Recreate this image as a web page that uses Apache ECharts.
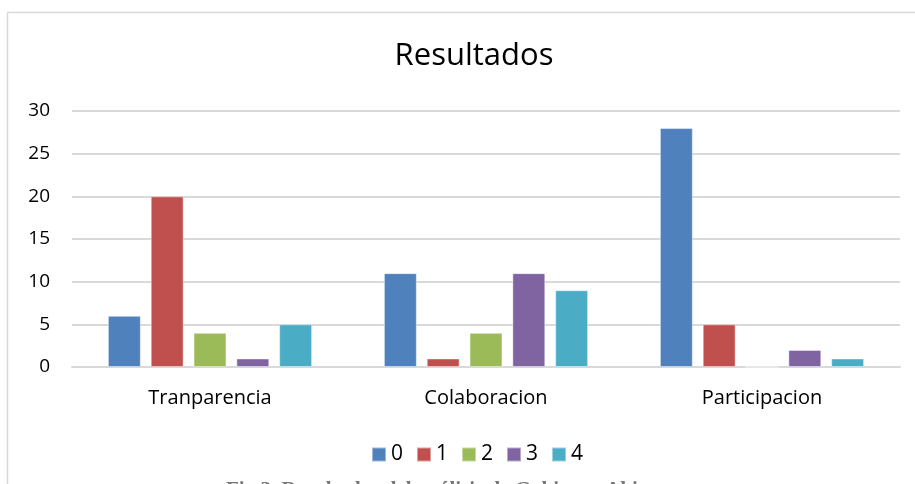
<!DOCTYPE html>
<html>
<head>
<meta charset="utf-8">
<script src="https://cdn.jsdelivr.net/npm/echarts@6/dist/echarts.min.js"></script>
<style>
  html, body { margin: 0; padding: 0; background: #fff; }
  #main { width: 915px; height: 484px; }
</style>
</head>
<body>
<div id="main"></div>
<script>
// datos
const categories = ['Tranparencia', 'Colaboracion', 'Participacion'];
const seriesNames = ['0', '1', '2', '3', '4'];
const values0 = [6, 11, 28];
const values1 = [20, 1, 5];
const values2 = [4, 4, 0];
const values3 = [1, 11, 2];
const values4 = [5, 9, 1];
const colors = ['#4F81BD', '#C0504D', '#9BBB59', '#8064A2', '#4BACC6'];
const allValues = [values0, values1, values2, values3, values4];

const font = '"Open Sans", "Noto Sans", sans-serif';

const chart = echarts.init(document.getElementById('main'));
chart.setOption({
    animation: false,
    color: colors,
    title: {
        text: 'Resultados',
        left: 469,
        textAlign: 'center',
        top: 36,
        textStyle: { fontFamily: font, fontSize: 31, fontWeight: 'normal', color: '#000' }
    },
    legend: {
        data: seriesNames,
        left: 366,
        top: 439,
        itemWidth: 14,
        itemHeight: 14,
        itemGap: 13,
        icon: 'rect',
        textStyle: { fontFamily: font, fontSize: 21, color: '#000' }
    },
    grid: { left: 72, right: 15, top: 111, bottom: 117 },
    xAxis: {
        type: 'category',
        data: categories,
        axisLine: { lineStyle: { color: '#d9d9d9', width: 2 } },
        axisTick: { show: false },
        axisLabel: { fontFamily: font, fontSize: 20, color: '#000', margin: 21 }
    },
    yAxis: {
        type: 'value',
        min: 0,
        max: 30,
        interval: 5,
        axisLine: { show: false },
        axisTick: { show: false },
        splitLine: { lineStyle: { color: '#d9d9d9', width: 2 } },
        axisLabel: { fontFamily: font, fontSize: 19, color: '#000', margin: 22 }
    },
    series: allValues.map((vals, i) => ({
        name: seriesNames[i],
        type: 'bar',
        data: vals,
        barGap: '30%',
        barCategoryGap: '26%',
        itemStyle: { color: colors[i], borderColor: 'rgba(255,255,255,0.45)', borderWidth: 1 }
    })),
    graphic: [
        {
            type: 'rect',
            shape: { x: 7.5, y: 12.5, width: 920, height: 500 },
            style: { fill: null, stroke: '#d9d9d9', lineWidth: 1.5 },
            z: -1
        },
        {
            type: 'text',
            left: 226,
            top: 480,
            style: {
                text: 'Fig 3. Resultados del análisis de Gobierno Abierto',
                font: 'bold 21px "Liberation Serif", serif',
                fill: '#777'
            }
        }
    ]
});
</script>
</body>
</html>
